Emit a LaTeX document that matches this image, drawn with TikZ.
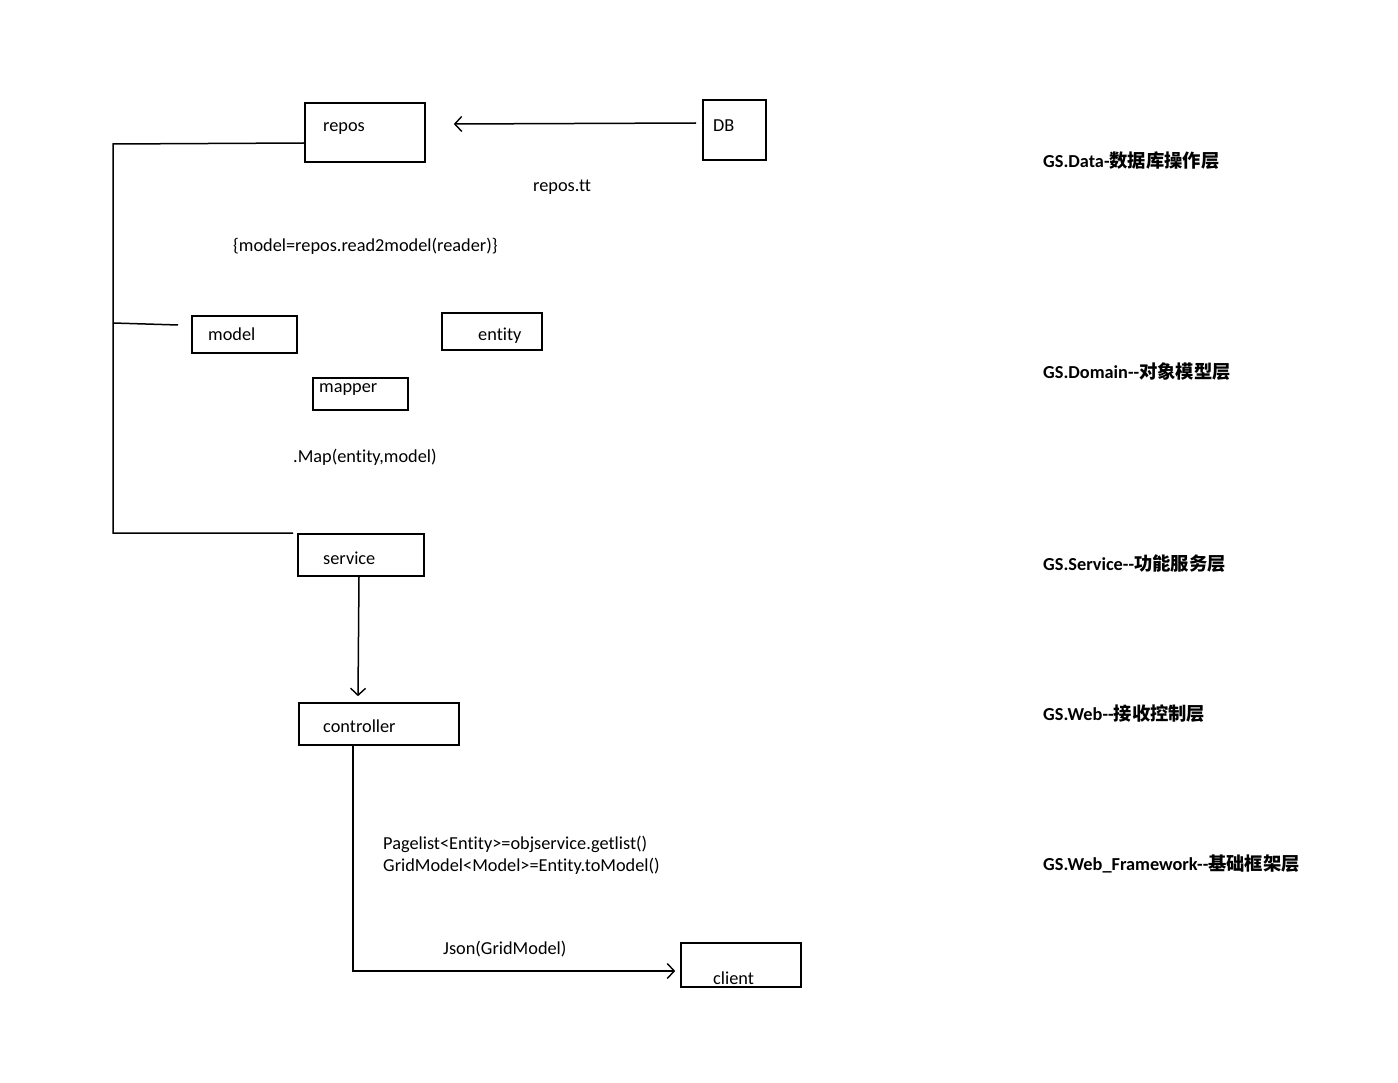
\documentclass[tikz,border=0pt]{standalone}
\usepackage{fontspec}
\setmainfont{Carlito}[Ligatures={NoCommon,NoRequired,NoContextual}]
\newfontfamily\cjk{Noto Sans CJK SC}
\usetikzlibrary{arrows.meta}
\tikzset{
  box/.style={draw=black, line width=1.6pt, inner sep=0pt, fill=none},
  txt/.style={anchor=base west, inner sep=0pt, font=\fontsize{18.3}{22}\selectfont},
  lay/.style={anchor=base west, inner sep=0pt, font=\fontsize{18.3}{22}\selectfont\bfseries},
  conn/.style={draw=black, line width=1.5pt},
  arr/.style={conn, -{Straight Barb[length=7pt,width=15pt,line width=1.4pt]}}
}
\begin{document}
\begin{tikzpicture}[x=1pt,y=-1pt]
\useasboundingbox (0,0) rectangle (1398,1083);
% boxes
\node[box, minimum width=120pt, minimum height=59pt] (repos) at (365,132.5) {};
\node[box, minimum width=63pt, minimum height=60pt] (DB) at (734.5,130) {};
\node[box, minimum width=105pt, minimum height=37pt] (model) at (244.5,334.5) {};
\node[box, minimum width=100pt, minimum height=37pt] (entity) at (492,331.5) {};
\node[box, minimum width=95pt, minimum height=32pt] (mapper) at (360.5,394) {};
\node[box, minimum width=126pt, minimum height=42pt] (service) at (361,555) {};
\node[box, minimum width=160pt, minimum height=42pt] (controller) at (379,724) {};
\node[box, minimum width=120pt, minimum height=44pt] (client) at (741,965) {};
% box texts
\node[txt] (treposbox) at (323,132) {repos};
\node[txt] (tDB) at (713,132) {DB};
\node[txt] (tmodel) at (208,341) {model};
\node[txt] (tentity) at (478,341) {entity};
\node[txt] (tmapper) at (319,392) {mapper};
\node[txt] (tservice) at (323,564) {service};
\node[txt] (tcontroller) at (323,732) {controller};
\node[txt] (tclient) at (713,984) {client};
% free texts
\node[txt] (treposetc) at (533,192) {repos.tt};
\node[txt] (tread) at (233,252) {\{model=repos.read2model(reader)\}};
\node[txt] (tmap) at (293,462) {.Map(entity,model)};
\node[txt] (tpage) at (383,849) {Pagelist<Entity>=objservice.getlist()};
\node[txt] (tgrid) at (383,871) {GridModel<Model>=Entity.toModel()};
\node[txt] (tjson) at (443,954) {Json(GridModel)};
% layer labels
\node[lay] (l1) at (1043,168) {GS.Data-{\cjk\bfseries 数据库操作层}};
\node[lay] (l2) at (1043,378) {GS.Domain-{}-{\cjk\bfseries 对象模型层}};
\node[lay] (l3) at (1043,570) {GS.Service-{}-{\cjk\bfseries 功能服务层}};
\node[lay] (l4) at (1043,720) {GS.Web-{}-{\cjk\bfseries 接收控制层}};
\node[lay] (l5) at (1043,870) {GS.Web\_Framework-{}-{\cjk\bfseries 基础框架层}};
% bracket coordinates
\coordinate (bTop) at (113,144);
\coordinate (bMid) at (113,323);
\coordinate (mEnd) at (178,325);
\coordinate (bBot) at (113,533);
\coordinate (bEnd) at (293,533);
% connectors
\draw[arr] ([xshift=-6pt,yshift=7pt]DB.west) -- ([xshift=28pt,yshift=8.5pt]repos.east);
\draw[conn] ([yshift=-10.5pt]repos.west) -- (bTop) -- (bBot) -- (bEnd);
\draw[conn] (bMid) -- (mEnd);
\draw[arr] ([xshift=-2pt]service.south) -- ([xshift=-21pt,yshift=6pt]controller.north);
\draw[arr] ([xshift=-26pt,yshift=2pt]controller.south) |- ([xshift=-5pt,yshift=-6pt]client.west);
\end{tikzpicture}
\end{document}
